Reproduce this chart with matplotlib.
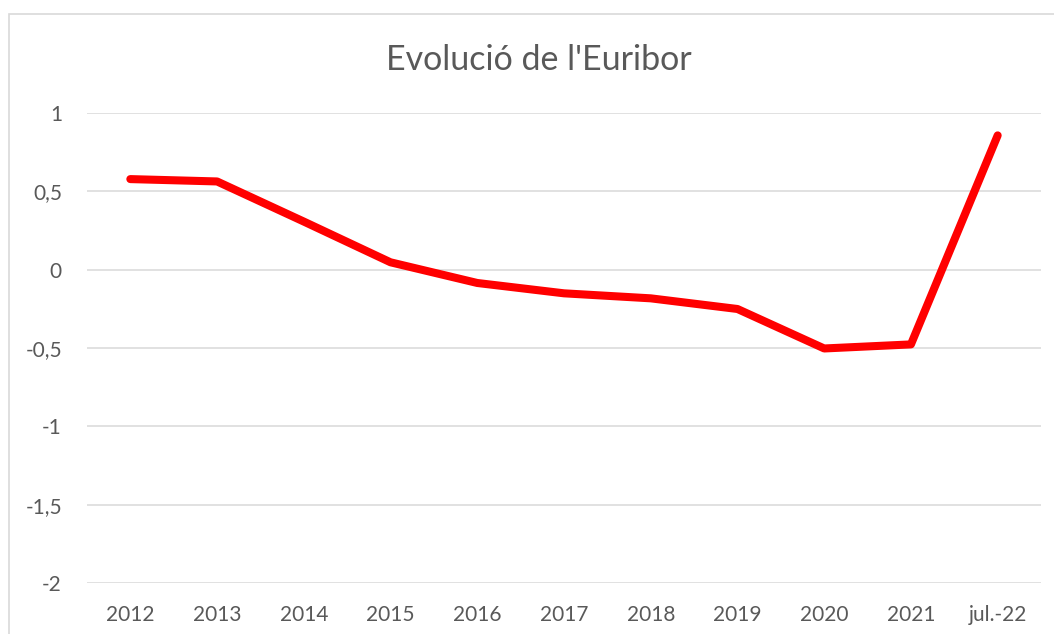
import matplotlib.pyplot as plt
from matplotlib.patches import Rectangle

# dades
anys = ["2012", "2013", "2014", "2015", "2016", "2017", "2018", "2019", "2020", "2021", "jul.-22"]
euribor = [0.578, 0.563, 0.307, 0.047, -0.085, -0.151, -0.183, -0.251, -0.503, -0.477, 0.857]
yticks = [-2, -1.5, -1, -0.5, 0, 0.5, 1]
ytick_labels = ["-2", "-1,5", "-1", "-0,5", "0", "0,5", "1"]

plt.rcParams['font.family'] = ['Lato', 'DejaVu Sans']
gris = "#595959"

fig = plt.figure(figsize=(10.54, 6.34), dpi=100)
ax = fig.add_axes([0.0825, 0.0804, 0.9052, 0.7414])

x = range(len(anys))
ax.plot(x, euribor, color="#FF0000", lw=5.8, solid_capstyle="round", solid_joinstyle="round", zorder=3)

ax.set_xlim(-0.5, len(anys) - 0.5)
ax.set_ylim(-2, 1)
ax.set_yticks(yticks)
ax.set_yticklabels(ytick_labels)
ax.set_xticks(list(x))
ax.set_xticklabels(anys)
ax.tick_params(axis="both", length=0, labelsize=15, colors=gris)
ax.tick_params(axis="y", pad=18)
ax.tick_params(axis="x", pad=16)
ax.grid(axis="y", color="#D9D9D9", lw=1.1)
ax.set_axisbelow(True)
for s in ax.spines.values():
    s.set_visible(False)

fig.text(0.511, 0.905, "Evolució de l'Euribor", ha="center", va="center", fontsize=24.5, color=gris)

# vora del gràfic
fig.patches.append(Rectangle((9 / 1054, -0.1), 1.2, 1.1 - 14 / 634, transform=fig.transFigure,
                             fill=False, edgecolor="#D9D9D9", lw=1.2))

fig.savefig("out.png", dpi=100)
